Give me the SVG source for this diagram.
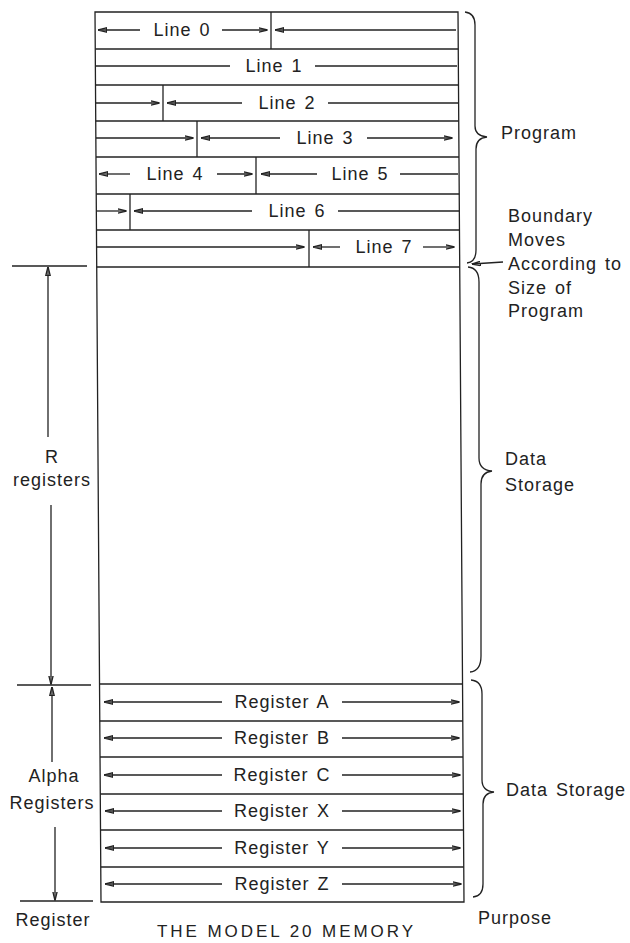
<svg xmlns="http://www.w3.org/2000/svg" width="630" height="943" viewBox="0 0 630 943">
<defs>
<marker id="ah" markerWidth="9" markerHeight="6" refX="8.5" refY="3" orient="auto" markerUnits="userSpaceOnUse">
<path d="M0,0.8 L9,3 L0,5.2 z" fill="#222"/>
</marker>
<style>
line, polyline, polygon, path { stroke: #222; stroke-width: 1.3; fill: none; }
.a { marker-end: url(#ah); }
text { font-family: "Liberation Sans", Arial, sans-serif; font-size: 18px; fill: #222; letter-spacing: 1px; word-spacing: 2px; }
.m { text-anchor: middle; }
.t { font-size: 17px; letter-spacing: 0; word-spacing: 0; }
</style>
</defs>
<rect width="630" height="943" fill="#fff"/>

<g id="frame">
<polygon points="95,12 458,12 464,902 101,902"/>
<line x1="95.25" y1="49" x2="458.25" y2="49"/>
<line x1="95.5" y1="85" x2="458.5" y2="85"/>
<line x1="95.7" y1="121" x2="458.7" y2="121"/>
<line x1="96" y1="157" x2="459" y2="157"/>
<line x1="96.2" y1="194" x2="459.2" y2="194"/>
<line x1="96.5" y1="230" x2="459.5" y2="230"/>
<line x1="96.7" y1="267" x2="459.7" y2="267"/>
<line x1="99.5" y1="684" x2="462.5" y2="684"/>
<line x1="99.8" y1="721" x2="462.8" y2="721"/>
<line x1="100" y1="757" x2="463" y2="757"/>
<line x1="100.3" y1="794" x2="463.3" y2="794"/>
<line x1="100.5" y1="830" x2="463.5" y2="830"/>
<line x1="100.8" y1="867" x2="463.8" y2="867"/>
</g>

<g id="line0">
<line x1="271" y1="12" x2="271" y2="49"/>
<line class="a" x1="140" y1="30" x2="98" y2="30"/>
<text class="m" x="182" y="36">Line 0</text>
<line class="a" x1="222" y1="30" x2="267" y2="30"/>
<line class="a" x1="456" y1="30" x2="275" y2="30"/>
</g>
<g id="line1">
<line x1="96" y1="66" x2="230" y2="66"/>
<text class="m" x="274" y="72">Line 1</text>
<line x1="315" y1="66" x2="457" y2="66"/>
</g>
<g id="line2">
<line x1="163" y1="85" x2="163" y2="121"/>
<line class="a" x1="96" y1="103" x2="159" y2="103"/>
<line class="a" x1="242" y1="103" x2="167" y2="103"/>
<text class="m" x="287" y="109">Line 2</text>
<line x1="328" y1="103" x2="458" y2="103"/>
</g>
<g id="line3">
<line x1="197" y1="121" x2="197" y2="157"/>
<line class="a" x1="96" y1="138" x2="193" y2="138"/>
<line class="a" x1="280" y1="138" x2="201" y2="138"/>
<text class="m" x="325" y="144">Line 3</text>
<line class="a" x1="367" y1="138" x2="452" y2="138"/>
</g>
<g id="line4">
<line x1="256" y1="157" x2="256" y2="194"/>
<line class="a" x1="130" y1="174" x2="99" y2="174"/>
<text class="m" x="175" y="180">Line 4</text>
<line class="a" x1="217" y1="174" x2="252" y2="174"/>
</g>
<g id="line5">
<line class="a" x1="317" y1="174" x2="261" y2="174"/>
<text class="m" x="360" y="180">Line 5</text>
<line x1="400" y1="174" x2="458" y2="174"/>
</g>
<g id="line6">
<line x1="130" y1="194" x2="130" y2="230"/>
<line class="a" x1="97" y1="211" x2="126" y2="211"/>
<line class="a" x1="252" y1="211" x2="134" y2="211"/>
<text class="m" x="297" y="217">Line 6</text>
<line x1="338" y1="211" x2="459" y2="211"/>
</g>
<g id="line7">
<line x1="309" y1="230" x2="309" y2="267"/>
<line class="a" x1="97" y1="247" x2="304" y2="247"/>
<line class="a" x1="340" y1="247" x2="313" y2="247"/>
<text class="m" x="384" y="253">Line 7</text>
<line class="a" x1="423" y1="247" x2="454" y2="247"/>
</g>

<g id="regA">
<line class="a" x1="222" y1="702" x2="104" y2="702"/>
<text class="m" x="282" y="708">Register A</text>
<line class="a" x1="342" y1="702" x2="459" y2="702"/>
</g>
<g id="regB">
<line class="a" x1="222" y1="738" x2="104" y2="738"/>
<text class="m" x="282" y="744">Register B</text>
<line class="a" x1="342" y1="738" x2="459" y2="738"/>
</g>
<g id="regC">
<line class="a" x1="222" y1="775" x2="104" y2="775"/>
<text class="m" x="282" y="781">Register C</text>
<line class="a" x1="342" y1="775" x2="460" y2="775"/>
</g>
<g id="regX">
<line class="a" x1="222" y1="811" x2="105" y2="811"/>
<text class="m" x="282" y="817">Register X</text>
<line class="a" x1="342" y1="811" x2="460" y2="811"/>
</g>
<g id="regY">
<line class="a" x1="222" y1="848" x2="105" y2="848"/>
<text class="m" x="282" y="854">Register Y</text>
<line class="a" x1="342" y1="848" x2="460" y2="848"/>
</g>
<g id="regZ">
<line class="a" x1="222" y1="884" x2="105" y2="884"/>
<text class="m" x="282" y="890">Register Z</text>
<line class="a" x1="342" y1="884" x2="461" y2="884"/>
</g>

<g id="connectors">
<line x1="12" y1="266" x2="87" y2="266"/>
<line x1="17" y1="685" x2="91" y2="685"/>
<line x1="20" y1="901" x2="93" y2="901"/>
<line class="a" x1="48" y1="437" x2="48" y2="267"/>
<line class="a" x1="51" y1="505" x2="51" y2="684"/>
<line class="a" x1="52" y1="762" x2="52" y2="687"/>
<line class="a" x1="55" y1="827" x2="55" y2="900"/>
<path d="M465,12 Q475,13 475,25 L475,126 Q475,136 487,137 Q476,138 476,149 L476,250 Q476,262 467,263"/>
<path d="M468,267 Q479,268 479,282 L479,458 Q479,470 492,471 Q481,472 481,484 L481,656 Q481,671 470,672"/>
<path d="M471,680 Q482,681 482,694 L482,780 Q482,791 494,792 Q483,793 483,804 L483,884 Q483,896 473,897"/>
<line class="a" x1="503" y1="262" x2="472" y2="264"/>
</g>

<g id="labels">
<text class="m" x="52" y="463">R</text>
<text class="m" x="52" y="486">registers</text>
<text class="m" x="54" y="782">Alpha</text>
<text class="m" x="52" y="809">Registers</text>
<text class="m" x="53" y="926">Register</text>
<text x="501" y="139">Program</text>
<text x="508" y="222">Boundary</text>
<text x="508" y="246">Moves</text>
<text x="508" y="270">According to</text>
<text x="508" y="294">Size of</text>
<text x="508" y="317">Program</text>
<text x="505" y="465">Data</text>
<text x="505" y="491">Storage</text>
<text x="506" y="796">Data Storage</text>
<text x="478" y="924">Purpose</text>
<text class="m t" x="285" y="937" textLength="256" lengthAdjust="spacing">THE MODEL 20 MEMORY</text>
</g>
</svg>
